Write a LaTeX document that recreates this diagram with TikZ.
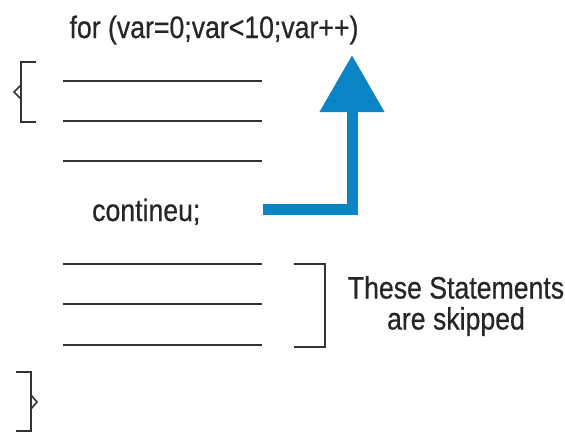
\documentclass[tikz,border=0pt]{standalone}
\usepackage{fontspec}
\setmainfont[FakeStretch=0.86,FakeBold=0.6]{Liberation Sans}
\usetikzlibrary{arrows.meta}
\definecolor{loopblue}{HTML}{0A84C4}
\definecolor{ink}{HTML}{333333}

\begin{document}
\begin{tikzpicture}[x=1pt,y=-1pt,font=\fontsize{31}{36}\selectfont,
  stmt/.style={ink,line width=1.4pt},
  brk/.style={ink,line width=1.6pt},
  jump/.style={loopblue,line width=11pt,-{Triangle[width=62pt,length=57pt]}}]
\useasboundingbox (0,0) rectangle (565,432);
\node[anchor=base,inner sep=0,text=black!85] (head) at (214,38) {for (var=0;var<10;var++)};
% statement lines of the loop body
\foreach \y in {81,121,161,264,304,345} \draw[stmt] (63,\y)--(262,\y);
\node[anchor=base west,inner sep=0,text=black!85] (cont) at (92,221) {contineu;};
% opening and closing braces of the body
\draw[brk] (36,62)--(21,62)--(21,122)--(36,122);
\draw[brk] (21,85)--(14,92)--(21,99);
\draw[brk] (16,372)--(31,372)--(31,431)--(16,431);
\draw[brk] (31,395)--(37,402)--(31,409);
% skipped part
\draw[brk] (294,264)--(325,264)--(325,347)--(294,347);
\node[align=center,inner sep=0,text=black!85,font=\fontsize{31}{31}\selectfont] (skip) at (456,306) {These Statements\\are skipped};
% continue jumps back to the loop head
\coordinate (from) at (263,209);
\coordinate (to) at (352,55);
\draw[jump] (from) -| (to);
\end{tikzpicture}
\end{document}
